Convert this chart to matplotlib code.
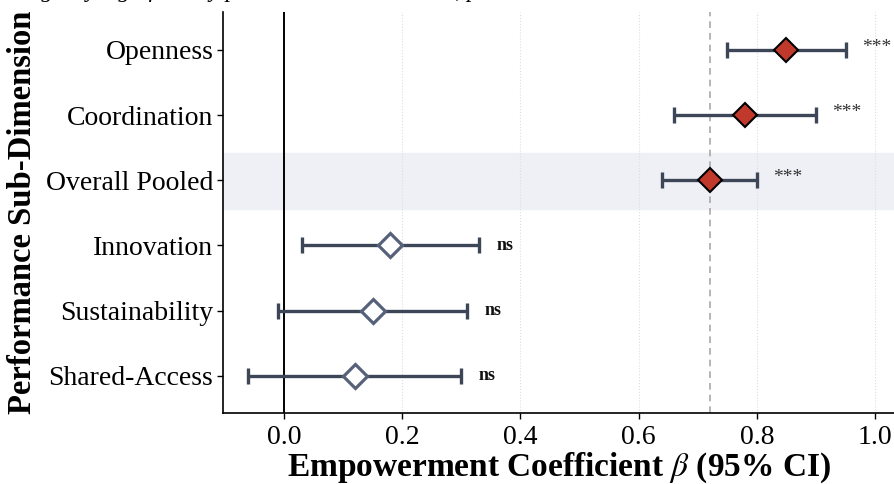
import matplotlib
matplotlib.use("Agg")
import matplotlib.pyplot as plt

# data (bottom to top)
dimensions = ["Shared-Access", "Sustainability", "Innovation",
              "Overall Pooled", "Coordination", "Openness"]
beta = [0.12, 0.15, 0.18, 0.72, 0.78, 0.85]
ci_low = [-0.06, -0.01, 0.03, 0.64, 0.66, 0.75]
ci_high = [0.30, 0.31, 0.33, 0.80, 0.90, 0.95]
sig = ["ns", "ns", "ns", "***", "***", "***"]
pooled_beta = 0.72
xticks = [0.0, 0.2, 0.4, 0.6, 0.8, 1.0]

plt.rcParams["font.family"] = ["Liberation Serif", "DejaVu Serif"]
plt.rcParams["mathtext.fontset"] = "stix"

fig = plt.figure(figsize=(8.94, 4.84), dpi=100)
ax = fig.add_axes([223 / 894, 71 / 484, 1.0 - 223 / 894, 401 / 484])

bar_col = "#3c4657"
red = "#c0392b"
hollow_edge = "#56627a"

# highlight band for pooled row
pooled_idx = dimensions.index("Overall Pooled")
ax.axhspan(pooled_idx - 0.44, pooled_idx + 0.42, color="#eef0f5", zorder=0)

for x in xticks:
    ax.axvline(x, color="#dcdde3", lw=0.8, ls=":", zorder=1)
ax.axvline(0, color="black", lw=1.4, zorder=2)
ax.axvline(pooled_beta, color="#a9a9a9", lw=1.2, ls=(0, (4, 3)), zorder=2)

for i, name in enumerate(dimensions):
    ax.errorbar(beta[i], i, xerr=[[beta[i] - ci_low[i]], [ci_high[i] - beta[i]]],
                fmt="none", ecolor=bar_col, elinewidth=2.4, capsize=6,
                capthick=2.4, zorder=3)
    if sig[i] == "ns":
        ax.plot(beta[i], i, marker="D", ms=12.5, mfc="white", mec=hollow_edge,
                mew=2.3, zorder=4)
        ax.text(ci_high[i] + 0.03, i, sig[i], fontsize=13, fontweight="bold",
                ha="left", va="center", color="#111111")
    else:
        ax.plot(beta[i], i, marker="D", ms=12.5, mfc=red, mec="black",
                mew=1.5, zorder=4)
        ax.text(ci_high[i] + 0.028, i + 0.04, sig[i], fontsize=14,
                ha="left", va="center", color="#333333")

ax.set_xlim(-0.103, 1.032)
ax.set_ylim(-0.57, 5.58)
ax.set_xticks(xticks)
ax.set_xticklabels([f"{t:.1f}" for t in xticks])
ax.set_yticks(range(len(dimensions)))
ax.set_yticklabels(dimensions)
ax.tick_params(axis="both", labelsize=20, length=4, width=1)
ax.tick_params(axis="x", pad=5)
ax.tick_params(axis="y", pad=3)

for side in ["top", "right"]:
    ax.spines[side].set_visible(False)
for side in ["left", "bottom"]:
    ax.spines[side].set_linewidth(1.2)

ax.set_xlabel(r"Empowerment Coefficient $\beta$ (95% CI)", fontsize=24,
              fontweight="bold", labelpad=0)
ax.set_ylabel("Performance Sub-Dimension", fontsize=23.5, fontweight="bold",
              labelpad=6)

# title sits mostly outside the crop, only descenders show
fig.text(0.03, 1.006, "Agency significantly predicts each dimension, p",
         fontsize=17, style="italic", ha="left", va="baseline")

fig.savefig("out.png", dpi=100)
